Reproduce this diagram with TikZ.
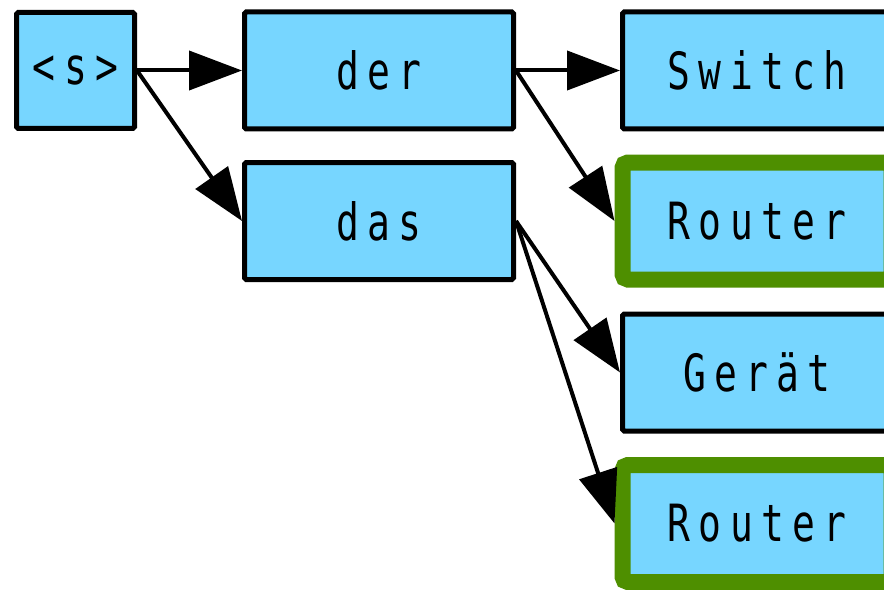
\documentclass[tikz,border=0pt]{standalone}
\usepackage{fontspec}
\newfontfamily\latticefont[FakeStretch=0.74, LetterSpace=16]{DejaVu Sans Mono}
\usepackage{tikz}
\usetikzlibrary{arrows.meta,shapes}
\definecolor{boxblue}{RGB}{119,214,255}
\definecolor{hitgreen}{RGB}{78,143,0}

\begin{document}
\begin{tikzpicture}

		\tikzstyle{every node}=[font=\latticefont\fontsize{14.6}{17}\selectfont]
		\tikzstyle{word}=[draw=black, fill=boxblue, line width=0.05cm, rounded corners=0.5pt, minimum width=2.69cm, minimum height=1.17cm, inner sep=0pt]
		\tikzstyle{hit}=[word, draw=hitgreen, line width=0.16cm, rounded corners=1.5pt]
		\tikzstyle{edge}=[-{Triangle[length=0.53cm, width=0.39cm]}, line width=0.04cm, black]

		\useasboundingbox (0,0) rectangle (8.84,-5.89);

		%\draw[style=help lines, step=0.5, color=gray] (0,0) grid (8.84,-5.89);
		\node[word, minimum width=1.18cm, minimum height=1.16cm] (bos) at (0.755,-0.705) {<s>};
		\node[word] (der) at (3.79,-0.705) {der};
		\node[word] (das) at (3.79,-2.21) {das};
		\node[word] (switch) at (7.57,-0.705) {Switch};
		\node[hit] (router1) at (7.57,-2.21) {Router};
		\node[word] (geraet) at (7.57,-3.725) {Gerät};
		\node[hit] (router2) at (7.57,-5.235) {Router};

		\draw[edge] (bos.east) -- (der.west);
		\draw[edge] (bos.east) -- (das.west);
		\draw[edge] (der.east) -- (switch.west);
		\draw[edge] (der.east) -- (router1.west);
		\draw[edge] (das.east) -- (geraet.west);
		\draw[edge] (das.east) -- (router2.west);

\end{tikzpicture}
\end{document}
